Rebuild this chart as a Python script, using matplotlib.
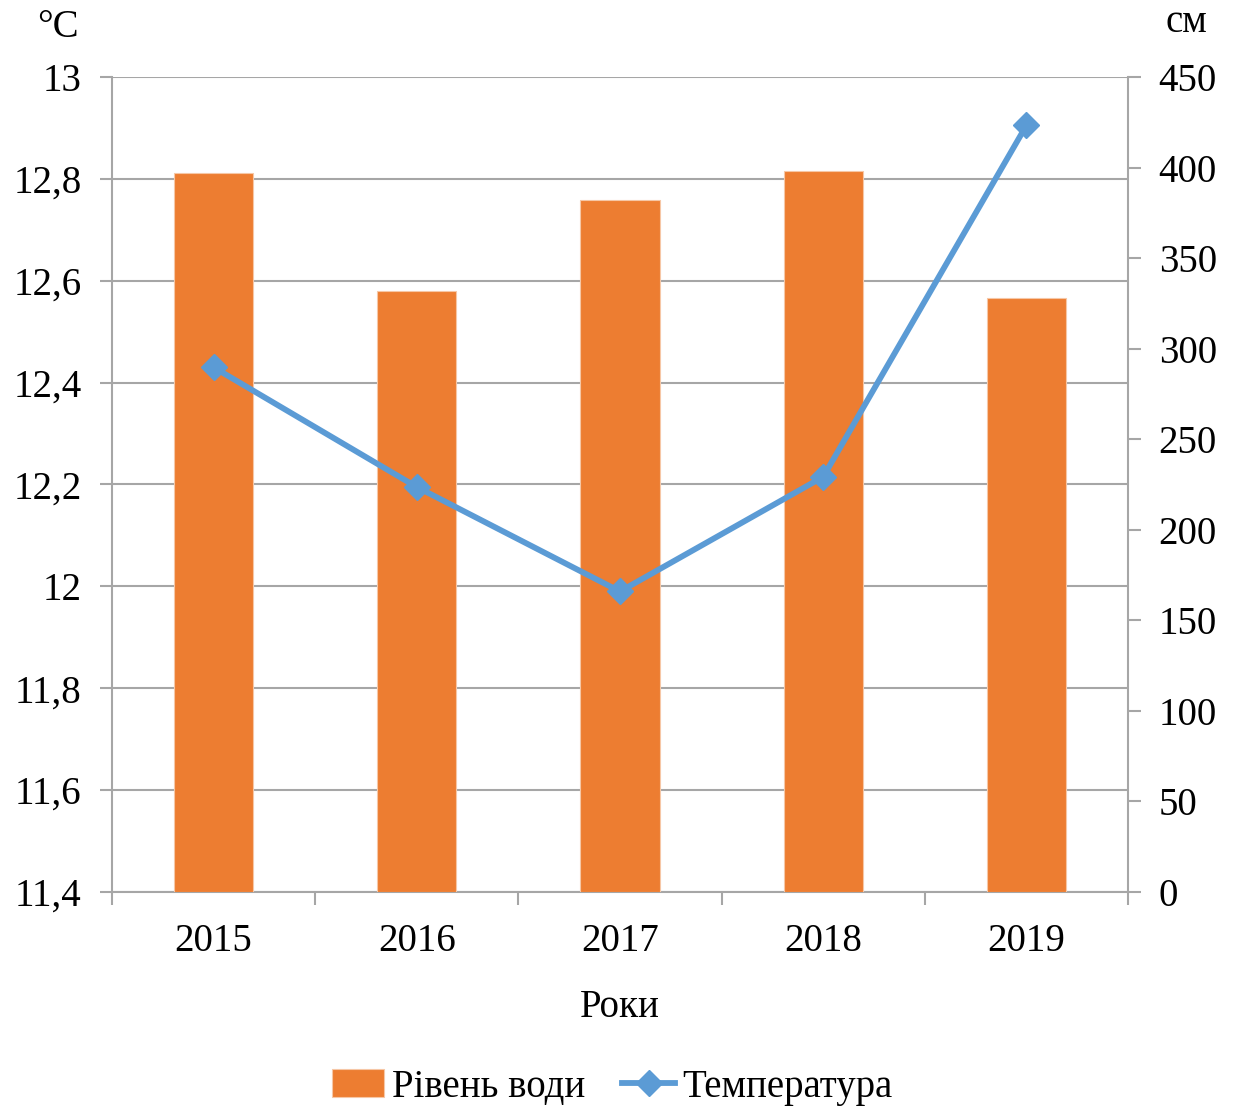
import numpy as np
import matplotlib
matplotlib.use("Agg")
import matplotlib.pyplot as plt
from matplotlib.ticker import FuncFormatter

plt.rcParams['font.family'] = ['Liberation Serif', 'DejaVu Serif']

years = ['2015', '2016', '2017', '2018', '2019']
water_level = [397, 332, 382, 398, 328]          # см
temperature = [12.43, 12.195, 11.99, 12.215, 12.905]  # °C

bar_color = '#ED7D31'
line_color = '#5B9BD5'
axis_gray = '#A6A6A6'
fs = 28

fig = plt.figure(figsize=(12.37, 11.06), dpi=100)
x = np.arange(len(years))

# base axes: temperature scale, gridlines, left ticks
ax = fig.add_axes([0.0905, 0.1935, 0.8214, 0.7369])
ax.set_zorder(0)
ax.set_ylim(11.4, 13.0)
ax.set_yticks(np.arange(11.4, 13.01, 0.2))
ax.yaxis.set_major_formatter(FuncFormatter(lambda v, p: f'{v:.1f}'.replace('.', ',').replace(',0', '')))
ax.grid(axis='y', color=axis_gray, linewidth=1.5)
ax.set_axisbelow(True)
ax.set_xlim(-0.5, len(years) - 0.5)
ax.set_xticks(np.arange(-0.5, len(years), 1.0))
ax.set_xticklabels([])
ax.set_xticks(x, minor=True)
ax.set_xticklabels(years, minor=True)
ax.tick_params(axis='x', which='minor', length=0, pad=22, labelsize=fs)
ax.tick_params(axis='x', which='major', length=9, width=1.5, color=axis_gray, direction='out')
ax.tick_params(axis='y', length=9, width=1.5, color=axis_gray, pad=13, labelsize=fs)
ax.spines['top'].set_visible(False)
for s in ('left', 'right', 'bottom'):
    ax.spines[s].set_color(axis_gray)
    ax.spines[s].set_linewidth(1.5)
ax.set_xlabel('Роки', fontsize=fs, labelpad=21)

# water level bars on right scale
axr = ax.twinx()
axr.set_zorder(1)
axr.patch.set_visible(False)
bars = axr.bar(x, water_level, width=0.39, color=bar_color, edgecolor='#F6C7A6',
               linewidth=0.8, label='Рівень води')
axr.set_ylim(0, 450)
axr.set_yticks(np.arange(0, 451, 50))
axr.tick_params(axis='y', length=9, width=1.5, color=axis_gray, pad=13, labelsize=fs)
for s in axr.spines.values():
    s.set_visible(False)

# temperature line on top
axl = ax.twinx()
axl.set_zorder(2)
axl.patch.set_visible(False)
axl.set_ylim(ax.get_ylim())
line, = axl.plot(x, temperature, color=line_color, linewidth=4.2, marker='D',
                 markersize=13, label='Температура')
axl.set_yticks([])
for s in axl.spines.values():
    s.set_visible(False)

fig.text(0.03, 0.975, '°C', fontsize=fs, ha='left', va='center')
fig.text(0.942, 0.98, 'см', fontsize=fs, ha='left', va='center')

fig.legend([bars, line], ['Рівень води', 'Температура'], loc='center',
           bbox_to_anchor=(0.495, 0.017), ncol=2, frameon=False, fontsize=fs,
           handlelength=1.35, handletextpad=0.2, columnspacing=0.95)

fig.savefig('out.png', dpi=100)
